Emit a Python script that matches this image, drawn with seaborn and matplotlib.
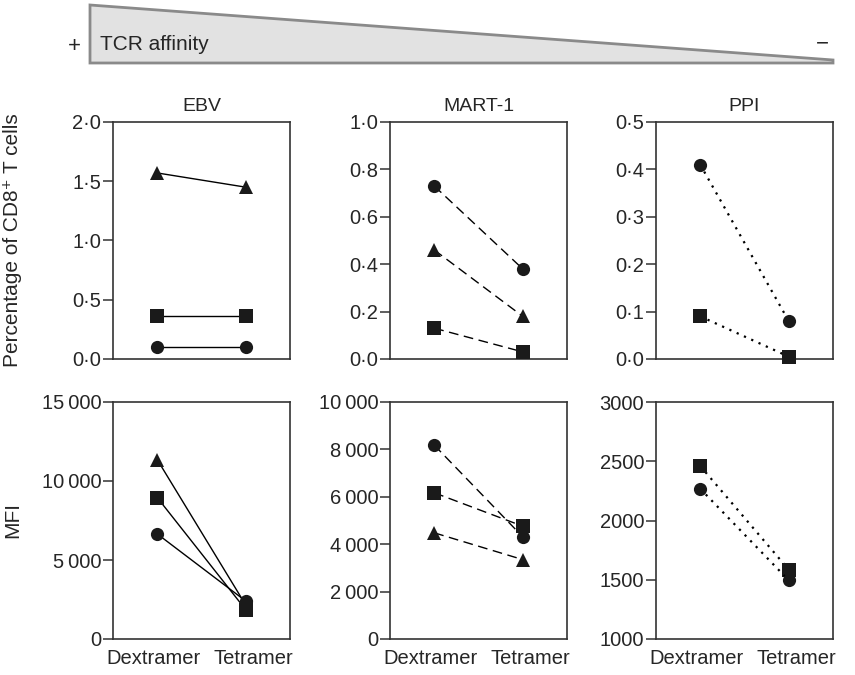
import numpy as np
import pandas as pd
import matplotlib
matplotlib.use("Agg")
import matplotlib.pyplot as plt
from matplotlib.patches import Polygon
from matplotlib.ticker import FuncFormatter
from matplotlib.transforms import ScaledTranslation
import seaborn as sns

# data
conditions = ["Dextramer", "Tetramer"]
panels = ["EBV", "MART-1", "PPI"]

ebv_pct = {"triangle": [1.57, 1.45], "square": [0.36, 0.36], "circle": [0.10, 0.10]}
mart_pct = {"circle": [0.73, 0.38], "triangle": [0.46, 0.18], "square": [0.13, 0.03]}
ppi_pct = {"circle": [0.41, 0.08], "square": [0.09, 0.005]}

ebv_mfi = {"triangle": [11350, 2150], "square": [8950, 1850], "circle": [6650, 2400]}
mart_mfi = {"circle": [8180, 4310], "square": [6170, 4760], "triangle": [4480, 3350]}
ppi_mfi = {"square": [2460, 1585], "circle": [2268, 1495]}

pct_ticks = [[0, 0.5, 1.0, 1.5, 2.0], [0, 0.2, 0.4, 0.6, 0.8, 1.0], [0, 0.1, 0.2, 0.3, 0.4, 0.5]]
mfi_ticks = [[0, 5000, 10000, 15000], [0, 2000, 4000, 6000, 8000, 10000], [1000, 1500, 2000, 2500, 3000]]

sns.set_style("white")
plt.rcParams["font.family"] = ["Liberation Sans", "DejaVu Sans"]

markers = {"circle": ("o", 9.5), "square": ("s", 10.5), "triangle": ("^", 10)}
line_styles = ["-", (0, (7, 4)), (0, (1, 2.6))]
line_widths = [1.0, 1.0, 1.6]

W, H = 855, 675
fig = plt.figure(figsize=(W / 100, H / 100), dpi=100)

# banner
bg = fig.add_axes([0, 0, 1, 1])
bg.set_xlim(0, W)
bg.set_ylim(H, 0)
bg.axis("off")
bg.add_patch(Polygon([(90, 5), (833, 60), (833, 63), (90, 63)], closed=True,
                     facecolor="#e2e2e2", edgecolor="#8a8a8a", lw=2))
bg.text(74, 46, "+", fontsize=16, ha="center", va="center")
bg.text(100, 44, "TCR affinity", fontsize=15, ha="left", va="center")
bg.text(822, 44, "\u2212", fontsize=16, ha="center", va="center")

lefts = [113, 390, 656]
aw = 177
rows = [(122, 359), (402, 639)]


def fmt_pct(v, pos):
    return ("%.1f" % v).replace(".", "\u00b7")


def fmt_mfi_space(v, pos):
    v = int(round(v))
    if v >= 1000:
        return "%d\u2009%03d" % (v // 1000, v % 1000)
    return "%d" % v


def fmt_mfi_plain(v, pos):
    return "%d" % int(round(v))


row_data = [[ebv_pct, mart_pct, ppi_pct], [ebv_mfi, mart_mfi, ppi_mfi]]
row_ticks = [pct_ticks, mfi_ticks]

for r, (top, bottom) in enumerate(rows):
    for c in range(3):
        ax = fig.add_axes([lefts[c] / W, 1 - bottom / H, aw / W, (bottom - top) / H])
        data = row_data[r][c]
        for name, vals in data.items():
            df = pd.DataFrame({"x": [0, 1], "y": vals})
            mk, ms = markers[name]
            sns.lineplot(data=df, x="x", y="y", ax=ax, color="black",
                         linestyle=line_styles[c], lw=line_widths[c],
                         marker=mk, markersize=ms, markeredgewidth=0,
                         markerfacecolor="#1a1a1a", clip_on=False, zorder=3)
        ticks = row_ticks[r][c]
        ax.set_xlim(-0.5, 1.5)
        ax.set_ylim(ticks[0], ticks[-1])
        ax.set_yticks(ticks)
        if r == 0:
            ax.yaxis.set_major_formatter(FuncFormatter(fmt_pct))
            ax.set_xticks([])
            ax.set_title(panels[c], fontsize=14, pad=8)
        else:
            ax.yaxis.set_major_formatter(FuncFormatter(fmt_mfi_plain if c == 2 else fmt_mfi_space))
            ax.set_xticks([0, 1])
            ax.set_xticklabels(conditions)
        ax.set_xlabel("")
        ax.set_ylabel("")
        ax.tick_params(axis="y", direction="out", length=7, width=1.1, color="#333333",
                       labelsize=14.5, pad=1.5, left=True)
        ax.tick_params(axis="x", length=0, labelsize=14.5, pad=7)
        if r == 1:
            # labels sit a little apart, like the reference
            for lbl, dx in zip(ax.get_xticklabels(), [-4, 8]):
                lbl.set_transform(lbl.get_transform() + ScaledTranslation(dx / 100, 0, fig.dpi_scale_trans))
        for s in ax.spines.values():
            s.set_visible(True)
            s.set_color("#333333")
            s.set_linewidth(1.2)
        if c == 0:
            lab = "Percentage of CD8\u207a T cells" if r == 0 else "MFI"
            ax.set_ylabel(lab, fontsize=15)
            ax.yaxis.set_label_coords((22 - lefts[0]) / aw, 0.5)

fig.savefig("out.png", dpi=100)
